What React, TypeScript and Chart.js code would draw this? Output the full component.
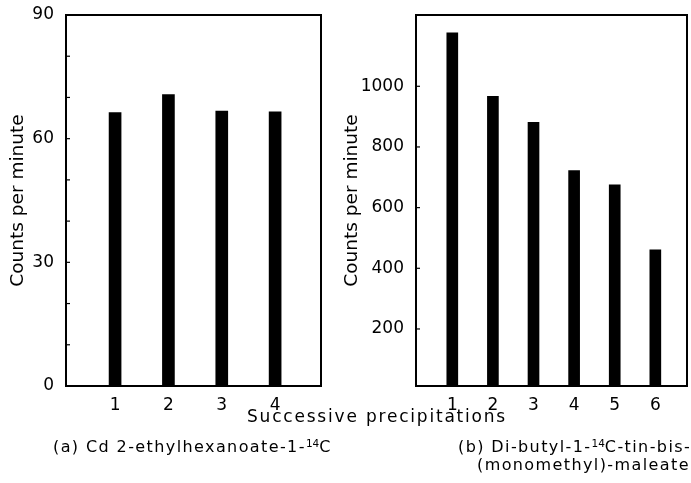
import React, { useEffect, useRef } from "react";
import { Chart, registerables } from "chart.js";

Chart.register(...registerables);

// ---- Data ----
const categoriesA = [1, 2, 3, 4];
const valuesA = [66.3, 70.7, 66.7, 66.5];
const yTickLabelsA = [0, 30, 60, 90];
const yMinorTicksA = [10, 20, 30, 40, 50, 60, 70, 80];

const categoriesB = [1, 2, 3, 4, 5, 6];
const valuesB = [1176, 967, 881, 722, 675, 461];
const yTickLabelsB = [200, 400, 600, 800, 1000];
const yMinorTicksB = [200, 400, 600, 800, 1000];

const FONT = "'DejaVu Sans', sans-serif";

function boxPlugin(minor: number[]) {
  return {
    id: "boxAndTicks",
    afterDatasetsDraw(chart: any) {
      const { ctx, chartArea } = chart;
      const { left, top, right, bottom } = chartArea;
      ctx.save();
      ctx.strokeStyle = "#000";
      ctx.lineWidth = 2;
      ctx.strokeRect(left, top, right - left, bottom - top);
      ctx.lineWidth = 1.2;
      const ys = chart.scales.y;
      for (const v of minor) {
        const py = ys.getPixelForValue(v);
        ctx.beginPath();
        ctx.moveTo(left, py);
        ctx.lineTo(left + 4, py);
        ctx.stroke();
      }
      ctx.restore();
    },
  };
}

interface PanelProps {
  cats: number[];
  vals: number[];
  yLabels: number[];
  yMinor: number[];
  xMin: number;
  xMax: number;
  yMin: number;
  yMax: number;
  yWidth: number;
  padRight: number;
  titlePad: number;
  barThickness: number;
  width: number;
}

function Panel(p: PanelProps) {
  const ref = useRef<HTMLCanvasElement>(null);
  useEffect(() => {
    if (!ref.current) return;
    const chart = new Chart(ref.current, {
      type: "bar",
      data: {
        datasets: [
          {
            data: p.cats.map((c, i) => ({ x: c, y: p.vals[i] })),
            backgroundColor: "#000",
            borderWidth: 0,
            barThickness: p.barThickness,
          },
        ],
      },
      options: {
        animation: false,
        responsive: false,
        maintainAspectRatio: false,
        devicePixelRatio: 1,
        layout: { padding: { top: 15, left: 0, right: p.padRight, bottom: 483 - 386 - 30 } },
        plugins: { legend: { display: false }, tooltip: { enabled: false } },
        scales: {
          x: {
            type: "linear",
            min: p.xMin,
            max: p.xMax,
            offset: false,
            grid: { display: false },
            border: { display: false },
            afterBuildTicks: (s: any) => {
              s.ticks = p.cats.map((v) => ({ value: v }));
            },
            afterFit: (s: any) => {
              s.height = 30;
            },
            ticks: {
              padding: 1,
              color: "#000",
              font: { family: FONT, size: 17 },
              callback: (v: any) => String(v),
              maxRotation: 0,
            },
          },
          y: {
            type: "linear",
            min: p.yMin,
            max: p.yMax,
            grid: { display: false },
            border: { display: false },
            afterBuildTicks: (s: any) => {
              s.ticks = p.yLabels.map((v) => ({ value: v }));
            },
            afterFit: (s: any) => {
              s.width = p.yWidth;
            },
            ticks: {
              padding: 4,
              color: "#000",
              font: { family: FONT, size: 17 },
              callback: (v: any) => String(v),
            },
            title: {
              display: true,
              text: "Counts per minute",
              color: "#000",
              font: { family: FONT, size: 18.5 },
              padding: { top: p.titlePad, bottom: 0 },
            },
          },
        },
      },
      plugins: [boxPlugin(p.yMinor)],
    } as any);
    return () => chart.destroy();
  }, []);
  return <canvas ref={ref} width={p.width} height={483} style={{ width: p.width, height: 483, display: "block" }} />;
}

export default function App() {
  const textStyle: React.CSSProperties = {
    position: "absolute",
    fontFamily: FONT,
    fontSize: 16,
    letterSpacing: "1.4px",
    color: "#000",
    whiteSpace: "nowrap",
    lineHeight: "18px",
  };
  const supStyle: React.CSSProperties = { fontSize: 10.5, verticalAlign: "top", lineHeight: "10px", letterSpacing: "0px" };
  return (
    <div style={{ position: "absolute", left: 0, top: 0, width: 691, height: 483, background: "#fff", overflow: "hidden" }}>
      <div style={{ position: "absolute", left: 0, top: 0 }}>
        <Panel
          cats={categoriesA}
          vals={valuesA}
          yLabels={yTickLabelsA}
          yMinor={yMinorTicksA}
          xMin={0.08}
          xMax={4.86}
          yMin={0}
          yMax={90}
          yWidth={66}
          padRight={19}
          titlePad={7}
          barThickness={12}
          width={340}
        />
      </div>
      <div style={{ position: "absolute", left: 340, top: 0 }}>
        <Panel
          cats={categoriesB}
          vals={valuesB}
          yLabels={yTickLabelsB}
          yMinor={yMinorTicksB}
          xMin={0.106}
          xMax={6.78}
          yMin={12}
          yMax={1235}
          yWidth={76}
          padRight={4}
          titlePad={1}
          barThickness={11}
          width={351}
        />
      </div>
      <div style={{ ...textStyle, left: 247, top: 407, fontSize: 17, letterSpacing: "1.8px" }}>Successive precipitations</div>
      <div style={{ ...textStyle, left: 53, top: 438 }}>
        (a) Cd 2-ethylhexanoate-1-<sup style={supStyle}>14</sup>C
      </div>
      <div style={{ ...textStyle, left: 458, top: 438 }}>
        (b) Di-butyl-1-<sup style={supStyle}>14</sup>C-tin-bis-
      </div>
      <div style={{ ...textStyle, left: 477, top: 456 }}>(monomethyl)-maleate</div>
    </div>
  );
}
